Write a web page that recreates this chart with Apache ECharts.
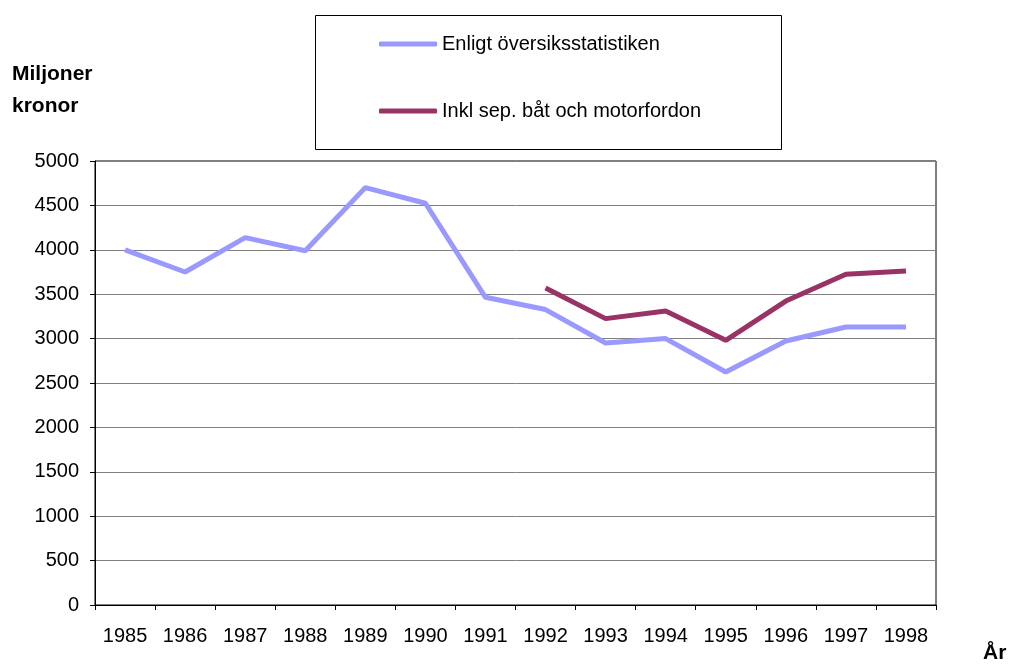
<!DOCTYPE html>
<html>
<head>
<meta charset="utf-8">
<script src="https://cdn.jsdelivr.net/npm/echarts@6/dist/echarts.min.js"></script>
<style>
  html, body { margin: 0; padding: 0; background: #fff; }
  #chart { width: 1009px; height: 665px; }
</style>
</head>
<body>
<div id="chart"></div>
<script>
// årtal på x-axeln
const years = ['1985', '1986', '1987', '1988', '1989', '1990', '1991',
               '1992', '1993', '1994', '1995', '1996', '1997', '1998'];
// Miljoner kronor
const oversikt = [4000, 3750, 4137, 3990, 4700, 4524, 3465,
                  3327, 2950, 3000, 2624, 2973, 3131, 3131];
const inklBat = [null, null, null, null, null, null, null,
                 3570, 3225, 3311, 2981, 3423, 3724, 3761];
const seriesNames = ['Enligt översiksstatistiken', 'Inkl sep. båt och motorfordon'];

const font = '"Liberation Sans", Arial, sans-serif';
const chart = echarts.init(document.getElementById('chart'));

chart.setOption({
  animation: false,
  backgroundColor: '#fff',
  textStyle: { fontFamily: font },
  grid: {
    left: 95, right: 73, top: 161, bottom: 60,
    show: true, borderColor: '#000', borderWidth: 1, backgroundColor: 'transparent'
  },
  legend: {
    orient: 'vertical',
    left: 379, top: 34,
    padding: 0,
    itemGap: 47,
    itemWidth: 58, itemHeight: 5,
    icon: 'roundRect',
    textStyle: { fontSize: 20, color: '#000', lineHeight: 20, fontFamily: font },
    data: seriesNames
  },
  xAxis: {
    type: 'category',
    data: years,
    boundaryGap: true,
    axisLine: { lineStyle: { color: '#000', width: 1 } },
    axisTick: { show: true, length: 5, interval: 0, lineStyle: { color: '#000' } },
    axisLabel: { color: '#000', fontSize: 20, margin: 21, interval: 0, fontFamily: font },
    splitLine: { show: false }
  },
  yAxis: {
    type: 'value',
    min: 0, max: 5000, interval: 500,
    axisLine: { show: true, lineStyle: { color: '#000', width: 1 } },
    axisTick: { show: true, length: 5, lineStyle: { color: '#000' } },
    axisLabel: { color: '#000', fontSize: 20, margin: 16, fontFamily: font,
                 formatter: v => String(v) },
    splitLine: { show: true, lineStyle: { color: '#808080', width: 1 } }
  },
  graphic: [
    {
      type: 'rect', left: 315, top: 15, z: -1,
      shape: { width: 466, height: 134 },
      style: { fill: '#fff', stroke: '#000', lineWidth: 1 }
    },
    {
      type: 'text', left: 12, top: 64,
      style: { text: 'Miljoner', font: 'bold 21px ' + font, fill: '#000' }
    },
    {
      type: 'text', left: 12, top: 96,
      style: { text: 'kronor', font: 'bold 21px ' + font, fill: '#000' }
    },
    {
      type: 'text', left: 983, top: 643,
      style: { text: 'År', font: 'bold 21px ' + font, fill: '#000' }
    }
  ],
  series: [
    {
      name: seriesNames[0], type: 'line', data: oversikt,
      showSymbol: false, symbol: 'none',
      itemStyle: { color: '#9999ff' },
      lineStyle: { color: '#9999ff', width: 5 }
    },
    {
      name: seriesNames[1], type: 'line', data: inklBat,
      showSymbol: false, symbol: 'none', connectNulls: false,
      itemStyle: { color: '#993366' },
      lineStyle: { color: '#993366', width: 5 }
    }
  ]
});
</script>
</body>
</html>
